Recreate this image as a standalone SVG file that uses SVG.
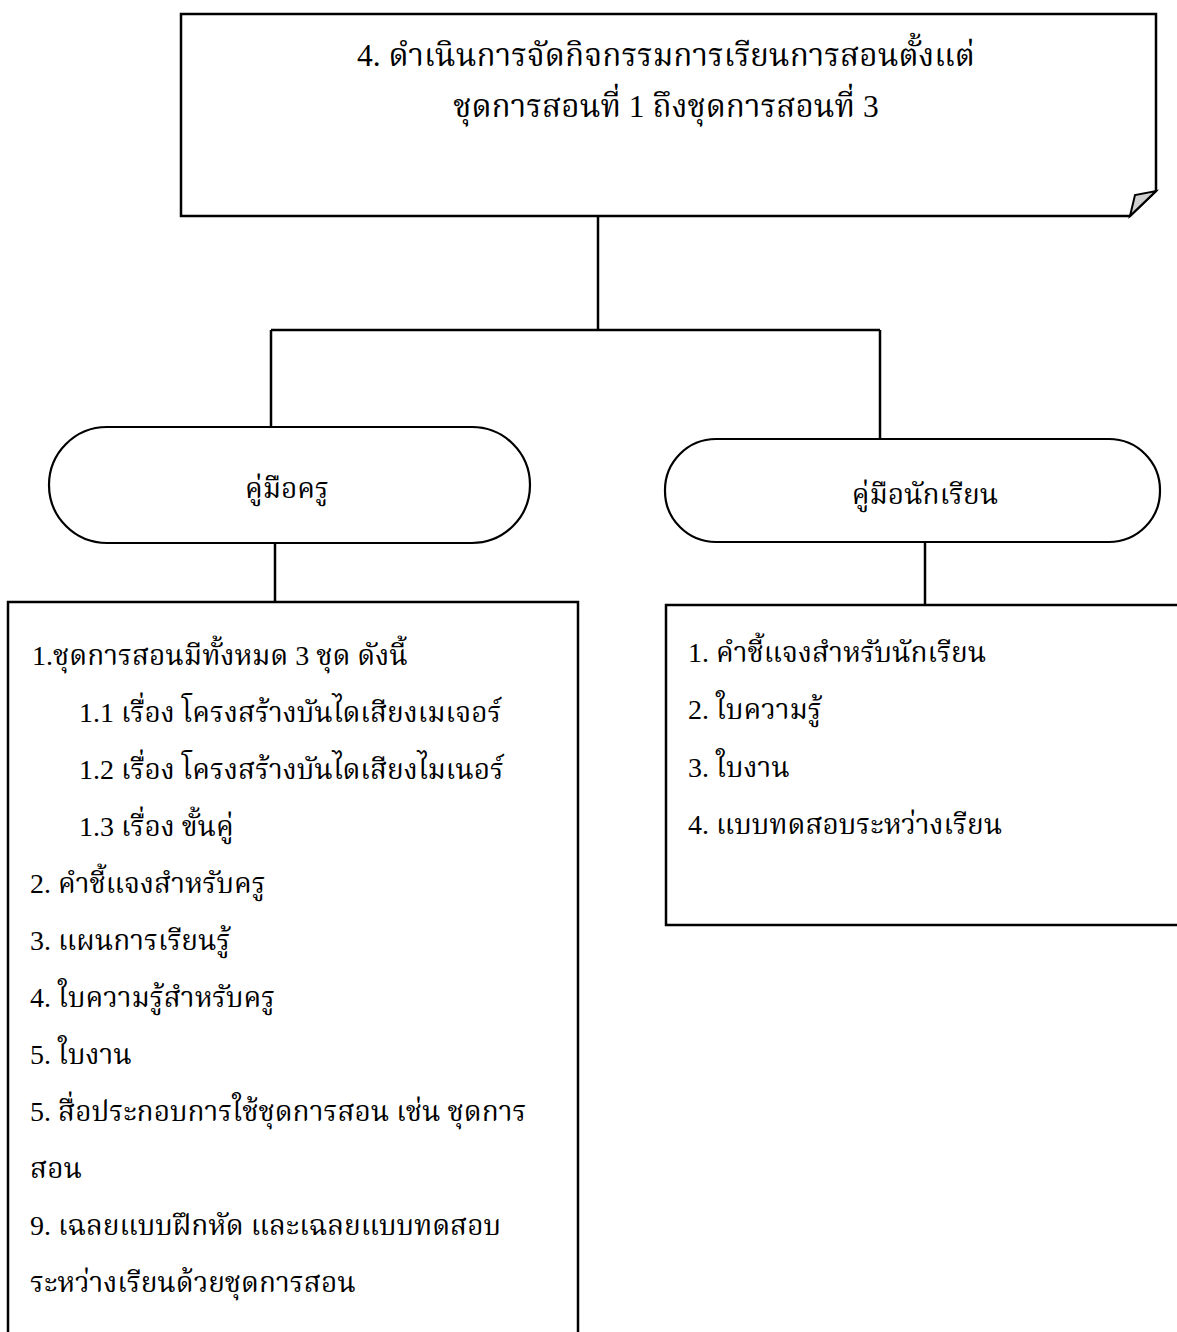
<svg xmlns="http://www.w3.org/2000/svg" width="1177" height="1332" viewBox="0 0 1177 1332">
<style>
.t{font-family:"Liberation Serif","Norasi","Noto Serif Thai","Noto Sans Thai","Garuda",serif;font-size:28px;fill:#000}
.tt{font-size:31.5px}
.box{fill:#fff;stroke:#000;stroke-width:2.5}
.ov{fill:#fff;stroke:#000;stroke-width:2.2}
.c{fill:none;stroke:#000;stroke-width:2.5}
</style>
<rect width="1177" height="1332" fill="#fff"/>
<g id="connectors">
<path class="c" d="M598,215 V330"/>
<path class="c" d="M271,330 H880"/>
<path class="c" d="M271,330 V427"/>
<path class="c" d="M880,330 V439"/>
<path class="c" d="M275,543 V602"/>
<path class="c" d="M925,542 V605"/>
</g>
<g id="top">
<path class="box" d="M181,14 H1156 V191 L1130,216 H181 Z"/>
<path d="M1130,216 L1135,195 L1156,191 Z" fill="#d0d0d0" stroke="#000" stroke-width="2"/>
<text class="t tt" x="666" y="66" text-anchor="middle">4. ดำเนินการจัดกิจกรรมการเรียนการสอนตั้งแต่</text>
<text class="t tt" x="666" y="117" text-anchor="middle">ชุดการสอนที่ 1 ถึงชุดการสอนที่ 3</text>
</g>
<g id="teacher">
<rect class="ov" x="49" y="427" width="481" height="116" rx="58"/>
<text class="t" x="287" y="498" text-anchor="middle">คู่มือครู</text>
</g>
<g id="student">
<rect class="ov" x="665" y="439" width="495" height="103" rx="51"/>
<text class="t" x="925" y="504" text-anchor="middle">คู่มือนักเรียน</text>
</g>
<g id="teacher-list" xml:space="preserve">
<path class="box" d="M8,1340 V602 H578 V1340"/>
<text class="t" x="32" y="665">1.ชุดการสอนมีทั้งหมด 3 ชุด ดังนี้</text>
<text class="t" x="79" y="722">1.1  เรื่อง โครงสร้างบันไดเสียงเมเจอร์</text>
<text class="t" x="79" y="779">1.2  เรื่อง โครงสร้างบันไดเสียงไมเนอร์</text>
<text class="t" x="79" y="836">1.3  เรื่อง ขั้นคู่</text>
<text class="t" x="30" y="893">2. คำชี้แจงสำหรับครู</text>
<text class="t" x="30" y="950">3. แผนการเรียนรู้</text>
<text class="t" x="30" y="1007">4. ใบความรู้สำหรับครู</text>
<text class="t" x="30" y="1064">5.  ใบงาน</text>
<text class="t" x="30" y="1121">5. สื่อประกอบการใช้ชุดการสอน เช่น ชุดการ</text>
<text class="t" x="30" y="1178">สอน</text>
<text class="t" x="30" y="1235">9. เฉลยแบบฝึกหัด และเฉลยแบบทดสอบ</text>
<text class="t" x="30" y="1292">ระหว่างเรียนด้วยชุดการสอน</text>
</g>
<g id="student-list">
<path class="box" d="M1180,605 H666 V925 H1180"/>
<text class="t" x="688" y="662">1. คำชี้แจงสำหรับนักเรียน</text>
<text class="t" x="688" y="719">2. ใบความรู้</text>
<text class="t" x="688" y="777">3. ใบงาน</text>
<text class="t" x="688" y="834">4. แบบทดสอบระหว่างเรียน</text>
</g>
</svg>
